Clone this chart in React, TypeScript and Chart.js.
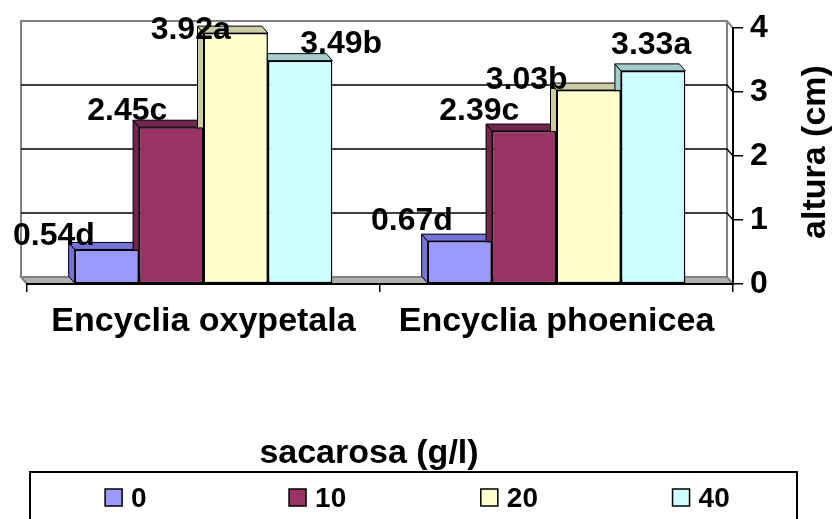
import React, { useEffect, useRef } from "react";
import { Chart, registerables } from "chart.js";

Chart.register(...registerables);

// ---- data ----
const categories = ["Encyclia oxypetala", "Encyclia phoenicea"];
const seriesNames = ["0", "10", "20", "40"];
const sucrose0 = [0.54, 0.67];
const sucrose10 = [2.45, 2.39];
const sucrose20 = [3.92, 3.03];
const sucrose40 = [3.49, 3.33];
const letters0 = ["d", "d"];
const letters10 = ["c", "c"];
const letters20 = ["a", "b"];
const letters40 = ["b", "a"];
const yTicks = [0, 1, 2, 3, 4];
const yAxisTitle = "altura (cm)";
const legendTitle = "sacarosa (g/l)";

// ---- styles / layout ----
const FONT = "'Liberation Sans', Arial, Helvetica, sans-serif";
const FRONT = ["#9999FF", "#993366", "#FFFFCC", "#CCFFFF"];
const DEPTH = ["#7373D9", "#72264C", "#CCCCA3", "#A3CCCC"];
const DX = 6;
const DY = 7;
// label offsets (pixels) relative to bar centre / bar top, per series per category
const LABEL_DX = [[-53, -48], [-44, -45], [-45, -62], [41, -2]];
const LABEL_DY = [[-4, -11], [-7, -11], [6, -1], [-8, -17]];

const seriesValues = [sucrose0, sucrose10, sucrose20, sucrose40];
const seriesLetters = [letters0, letters10, letters20, letters40];

const threeD = {
  id: "threeD",
  beforeDraw(chart: any) {
    const { ctx, chartArea } = chart;
    const { left, right, top, bottom } = chartArea;
    const y = chart.scales.y;
    ctx.save();
    // side wall (right) and floor outlines
    ctx.strokeStyle = "#808080";
    ctx.lineWidth = 2;
    // floor
    ctx.fillStyle = "#B0B0B0";
    ctx.beginPath();
    ctx.moveTo(left - DX, bottom - DY);
    ctx.lineTo(right - DX, bottom - DY);
    ctx.lineTo(right, bottom);
    ctx.lineTo(left, bottom);
    ctx.closePath();
    ctx.fill();
    ctx.stroke();
    // back wall left and top
    ctx.beginPath();
    ctx.moveTo(left - DX, bottom - DY);
    ctx.lineTo(left - DX, top - DY);
    ctx.lineTo(right - DX, top - DY);
    ctx.lineTo(right, top);
    ctx.moveTo(right - DX, top - DY);
    ctx.lineTo(right - DX, bottom - DY);
    ctx.stroke();
    // gridlines on back wall
    yTicks.forEach((v) => {
      if (v === yTicks[0] || v === yTicks[yTicks.length - 1]) return;
      const py = y.getPixelForValue(v);
      ctx.strokeStyle = "#000";
      ctx.lineWidth = 1.5;
      ctx.beginPath();
      ctx.moveTo(left - DX, py - DY);
      ctx.lineTo(right - DX, py - DY);
      ctx.lineTo(right, py);
      ctx.stroke();
    });
    ctx.restore();
  },
  beforeDatasetsDraw(chart: any) {
    const { ctx } = chart;
    ctx.save();
    ctx.strokeStyle = "#000";
    ctx.lineWidth = 1;
    chart.data.datasets.forEach((ds: any, di: number) => {
      const meta = chart.getDatasetMeta(di);
      meta.data.forEach((el: any) => {
        const { x, y, base, width } = el.getProps(["x", "y", "base", "width"], true);
        const l = x - width / 2;
        const r = x + width / 2;
        ctx.fillStyle = DEPTH[di];
        // left face
        ctx.beginPath();
        ctx.moveTo(l, y);
        ctx.lineTo(l - DX, y - DY);
        ctx.lineTo(l - DX, base - DY);
        ctx.lineTo(l, base);
        ctx.closePath();
        ctx.fill();
        ctx.stroke();
        // top face
        ctx.beginPath();
        ctx.moveTo(l, y);
        ctx.lineTo(l - DX, y - DY);
        ctx.lineTo(r - DX, y - DY);
        ctx.lineTo(r, y);
        ctx.closePath();
        ctx.fill();
        ctx.stroke();
      });
    });
    ctx.restore();
  },
  afterDatasetsDraw(chart: any) {
    const { ctx } = chart;
    ctx.save();
    ctx.fillStyle = "#000";
    ctx.font = `bold 32px ${FONT}`;
    ctx.textAlign = "center";
    ctx.textBaseline = "alphabetic";
    chart.data.datasets.forEach((ds: any, di: number) => {
      const meta = chart.getDatasetMeta(di);
      meta.data.forEach((el: any, i: number) => {
        const { x, y } = el.getProps(["x", "y"], true);
        const txt = seriesValues[di][i].toFixed(2) + seriesLetters[di][i];
        ctx.fillText(txt, x + LABEL_DX[di][i], y + LABEL_DY[di][i]);
      });
    });
    ctx.restore();
  },
  afterDraw(chart: any) {
    const { ctx } = chart;
    ctx.save();
    ctx.fillStyle = "#000";
    // y axis title, rotated bottom-to-top
    ctx.font = `bold 34px ${FONT}`;
    ctx.translate(825, 152);
    ctx.rotate(-Math.PI / 2);
    ctx.textAlign = "center";
    ctx.textBaseline = "alphabetic";
    ctx.fillText(yAxisTitle, 0, 0);
    ctx.restore();

    // legend
    ctx.save();
    ctx.fillStyle = "#000";
    ctx.font = `bold 34px ${FONT}`;
    ctx.textAlign = "center";
    ctx.textBaseline = "alphabetic";
    ctx.fillText(legendTitle, 369, 463);
    const bl = 30, br = 797, bt = 472;
    ctx.strokeStyle = "#000";
    ctx.lineWidth = 2;
    ctx.beginPath();
    ctx.moveTo(bl, 540);
    ctx.lineTo(bl, bt);
    ctx.lineTo(br, bt);
    ctx.lineTo(br, 540);
    ctx.stroke();
    ctx.font = `bold 28px ${FONT}`;
    ctx.textAlign = "left";
    const q = (br - bl) / chart.data.datasets.length;
    chart.data.datasets.forEach((ds: any, di: number) => {
      const tw = ctx.measureText(ds.label).width;
      const w = 17 + 9 + tw;
      const cx = bl + (di + 0.5) * q;
      const sx = cx - w / 2;
      ctx.fillStyle = ds.backgroundColor;
      ctx.fillRect(sx, 489, 17, 17);
      ctx.lineWidth = 1.5;
      ctx.strokeRect(sx, 489, 17, 17);
      ctx.fillStyle = "#000";
      ctx.fillText(ds.label, sx + 26, 507);
    });
    ctx.restore();
  },
};

export default function App() {
  const ref = useRef<HTMLCanvasElement | null>(null);
  useEffect(() => {
    if (!ref.current) return;
    const chart = new Chart(ref.current, {
      type: "bar",
      data: {
        labels: categories,
        datasets: seriesNames.map((name, i) => ({
          label: name,
          data: seriesValues[i],
          backgroundColor: FRONT[i],
          borderColor: "#000",
          borderWidth: 1.5,
          borderSkipped: false,
          categoryPercentage: 0.73,
          barPercentage: 1.0,
        })),
      },
      options: {
        animation: false,
        responsive: true,
        maintainAspectRatio: false,
        layout: { padding: { left: 27, top: 28, right: 0, bottom: 175 } },
        plugins: {
          legend: { display: false },
          tooltip: { enabled: false },
        },
        scales: {
          x: {
            offset: true,
            grid: {
              offset: true,
              drawOnChartArea: false,
              drawTicks: true,
              tickLength: 8,
              color: "#000",
              lineWidth: 1.5,
            },
            border: { display: true, color: "#000", width: 2 },
            ticks: {
              color: "#000",
              font: { family: FONT, size: 34, weight: "bold" },
              padding: 9,
              maxRotation: 0,
              minRotation: 0,
              autoSkip: false,
            },
            afterFit: (s: any) => {
              s.height = 60;
            },
          },
          y: {
            position: "right",
            min: yTicks[0],
            max: yTicks[yTicks.length - 1],
            afterBuildTicks: (s: any) => {
              s.ticks = yTicks.map((v) => ({ value: v }));
            },
            grid: {
              drawOnChartArea: false,
              drawTicks: true,
              tickLength: 10,
              color: "#000",
              lineWidth: 1.5,
            },
            border: { display: true, color: "#000", width: 2 },
            ticks: {
              color: "#000",
              font: { family: FONT, size: 32, weight: "bold" },
              padding: 7,
            },
            afterFit: (s: any) => {
              s.width = 101;
            },
          },
        },
      },
      plugins: [threeD],
    });
    return () => chart.destroy();
  }, []);
  return (
    <div style={{ position: "fixed", left: 0, top: 0, width: 834, height: 519, background: "#fff" }}>
      <canvas ref={ref} />
    </div>
  );
}
